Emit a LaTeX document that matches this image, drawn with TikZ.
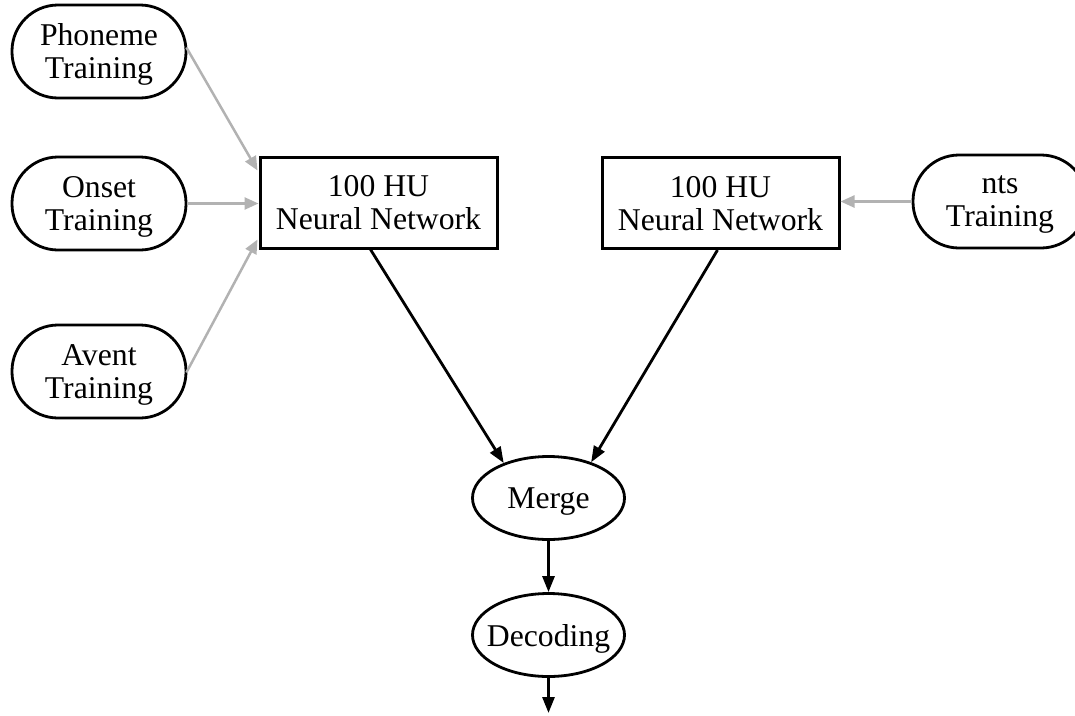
\documentclass[tikz,border=0pt]{standalone}
\usepackage{fontspec}
\setmainfont{Liberation Serif}
\usetikzlibrary{shapes.geometric,arrows.meta,calc}
\tikzset{
  lbl/.style={font=\fontsize{31.7}{33}\selectfont, align=center, inner sep=0pt,
    text depth=0pt},
  source/.style={lbl, draw, line width=2.8pt, rounded corners=46pt,
    minimum width=174pt, minimum height=93pt},
  netbox/.style={lbl, draw, line width=3pt, minimum width=237pt, minimum height=91pt},
  oval/.style={lbl, draw, ellipse, line width=2.8pt, inner xsep=-14pt,
    minimum width=152pt, minimum height=83pt},
  feed/.style={draw=black!30, line width=2.5pt, -{Triangle[length=14pt,width=12pt]}},
  flow/.style={draw=black, line width=2.8pt, -{Triangle[length=16pt,width=12pt]}},
}
\begin{document}
\begin{tikzpicture}[x=1pt,y=-1pt]
\useasboundingbox (0,0) rectangle (1075,715);

% training sources
\node[source] (ph) at (99,51.5) {Phoneme\\Training};
\node[source] (on) at (99,203.5) {Onset\\Training};
\node[source] (av) at (99,371.5) {Avent\\Training};
\node[source] (nt) at (1000,201.5) {nts\\Training};

% networks
\node[netbox] (nn1) at (378.5,202.5) {100 HU\\Neural Network};
\node[netbox] (nn2) at (720.5,203) {100 HU\\Neural Network};

% merging and decoding
\node[oval] (mg) at (548.5,498) {Merge};
\node[oval] (dc) at (548.5,635) {Decoding};
\coordinate (out) at (548.5,713);

% training feeds
\draw[feed] ($(ph.east)+(-1,-4)$) -- ($(nn1.north west)+(-1,15)$);
\draw[feed] (on.east) -- (on.east -| nn1.west);
\draw[feed] ($(av.east)+(-1,1)$) -- ($(nn1.south west)+(-1,-10)$);
\draw[feed] (nt.west) -- (nt.west -| nn2.east);

% network outputs
\draw[flow] ($(nn1.south)+(-8,0)$) -- (mg.142);
\draw[flow] ($(nn2.south)+(-3,0)$) -- (mg.40);
\draw[flow] (mg.south) -- (dc.north);
\draw[flow] (dc.south) -- (out);
\end{tikzpicture}
\end{document}
